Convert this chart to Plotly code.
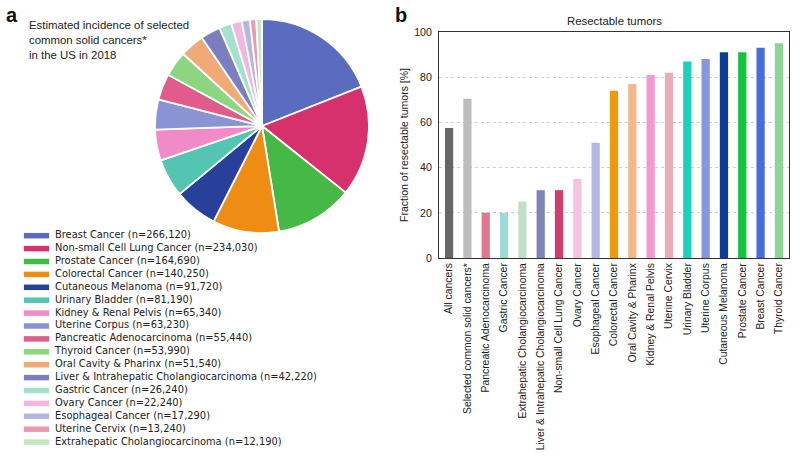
import plotly.graph_objects as go

# ---------------- data ----------------
pie_names = ["Breast Cancer", "Non-small Cell Lung Cancer", "Prostate Cancer", "Colorectal Cancer",
             "Cutaneous Melanoma", "Urinary Bladder", "Kidney & Renal Pelvis", "Uterine Corpus",
             "Pancreatic Adenocarcinoma", "Thyroid Cancer", "Oral Cavity & Pharinx",
             "Liver & Intrahepatic Cholangiocarcinoma", "Gastric Cancer", "Ovary Cancer",
             "Esophageal Cancer", "Uterine Cervix", "Extrahepatic Cholangiocarcinoma"]
pie_counts = [266120, 234030, 164690, 140250, 91720, 81190, 65340, 63230, 55440, 53990,
              51540, 42220, 26240, 22240, 17290, 13240, 12190]
pie_colors = ["#5a6bc0", "#d6306d", "#46b846", "#ef8c14", "#27409a", "#55c5b3", "#f08ac8",
              "#8a93d4", "#e15c8c", "#8cd67f", "#f0aa78", "#7b7fc0", "#a3e0cf", "#f5b5dd",
              "#b6b6e4", "#e99ab2", "#c6e6c3"]

bar_categories = ["All cancers", "Selected common solid cancers*", "Pancreatic Adenocarcinoma",
                  "Gastric Cancer", "Extrahepatic Cholangiocarcinoma",
                  "Liver & Intrahepatic Cholangiocarcinoma", "Non-small Cell Lung Cancer",
                  "Ovary Cancer", "Esophageal Cancer", "Colorectal Cancer", "Oral Cavity & Pharinx",
                  "Kidney & Renal Pelvis", "Uterine Cervix", "Urinary Bladder", "Uterine Corpus",
                  "Cutaneous Melanoma", "Prostate Cancer", "Breast Cancer", "Thyroid Cancer"]
bar_values = [57.5, 70.5, 20, 20, 25, 30, 30, 35, 51, 74, 77, 81, 82, 87, 88, 91, 91, 93, 95]
bar_colors = ["#666666", "#bdbdbd", "#e07890", "#9cdcd4", "#c3dfc8", "#7a86b6", "#d43a6a",
              "#f5c3e0", "#b3b8e2", "#f0990a", "#f2b88b", "#f598d2", "#e8aeb8", "#1ccfc0",
              "#8796e0", "#0b3c9c", "#14c43c", "#4a6ae0", "#8dd496"]
y_ticks = [0, 20, 40, 60, 80, 100]

legend_labels = [f"{n} (n={c:,})" for n, c in zip(pie_names, pie_counts)]
legend_rows = list(range(len(pie_names)))

W, H = 800, 456
SANS = "Liberation Sans, Arial, sans-serif"

fig = go.Figure()

# ---------------- pie ----------------
cx, cy, r = 262, 126, 107
fig.add_trace(go.Pie(
    labels=pie_names, values=pie_counts, sort=False, direction="clockwise", rotation=0,
    marker=dict(colors=pie_colors, line=dict(color="white", width=1.8)),
    textinfo="none", hoverinfo="label+value", showlegend=False,
    domain=dict(x=[(cx - r) / W, (cx + r) / W], y=[(H - cy - r) / H, (H - cy + r) / H]),
))

# ---------------- legend (data-driven swatches + labels) ----------------
fig.add_trace(go.Scatter(
    x=[36.5] * len(legend_rows), y=legend_rows, mode="markers",
    marker=dict(symbol="line-ew", size=18, color=pie_colors,
                line=dict(color=pie_colors, width=5.5)),
    xaxis="x3", yaxis="y3", showlegend=False, hoverinfo="skip", cliponaxis=False,
))
fig.add_trace(go.Scatter(
    x=[55] * len(legend_rows), y=legend_rows, mode="text", text=legend_labels,
    textposition="middle right",
    textfont=dict(family="DejaVu Sans, sans-serif", size=9.9, color="#222"),
    xaxis="x3", yaxis="y3", showlegend=False, hoverinfo="skip", cliponaxis=False,
))

# ---------------- bars ----------------
fig.add_trace(go.Bar(
    x=bar_categories, y=bar_values, marker=dict(color=bar_colors, line=dict(width=0)),
    width=0.45, xaxis="x", yaxis="y", showlegend=False,
))

row_h = 12.9
top_px = 235.7 - row_h / 2
bot_px = top_px + row_h * len(legend_rows)

fig.update_layout(
    width=W, height=H, margin=dict(l=0, r=0, t=0, b=0, autoexpand=False),
    paper_bgcolor="white", plot_bgcolor="white",
    font=dict(family=SANS, color="#222"),
    xaxis=dict(domain=[439 / W, 789 / W], range=[-0.55, len(bar_categories) - 0.45],
               type="category", tickangle=-90, tickfont=dict(size=10.4, family=SANS, color="#222"),
               showline=True, mirror=True, linecolor="#333", linewidth=1, ticks="",
               showgrid=False, anchor="y", fixedrange=True, automargin=False),
    yaxis=dict(domain=[1 - 258 / H, 1 - 32 / H], range=[0, 100], tickvals=y_ticks,
               tickfont=dict(size=10.6, family=SANS, color="#222"),
               showline=True, mirror=True, linecolor="#333", linewidth=1, ticks="",
               showgrid=True, gridcolor="#cfcfcf", griddash="dot", gridwidth=1,
               zeroline=False, anchor="x", ticklabelstandoff=4, automargin=False,
               title=dict(text="Fraction of resectable tumors [%]",
                          font=dict(size=10.5, family=SANS, color="#222"), standoff=3)),
    xaxis3=dict(domain=[0, 0.5], range=[0, 400], visible=False, anchor="y3", fixedrange=True,
                automargin=False),
    yaxis3=dict(domain=[(H - bot_px) / H, (H - top_px) / H],
                range=[len(legend_rows) - 0.5, -0.5], visible=False, anchor="x3", fixedrange=True,
                automargin=False),
    annotations=[
        dict(text="<b>a</b>", x=4 / W, y=1 - 2 / H, xref="paper", yref="paper",
             xanchor="left", yanchor="top", showarrow=False,
             font=dict(size=20, family=SANS, color="#111")),
        dict(text="<b>b</b>", x=393 / W, y=1 - 2 / H, xref="paper", yref="paper",
             xanchor="left", yanchor="top", showarrow=False,
             font=dict(size=20, family=SANS, color="#111")),
        dict(text="Estimated incidence of selected<br>common solid cancers*<br>in the US in 2018",
             x=27 / W, y=1 - 17 / H, xref="paper", yref="paper", xanchor="left", yanchor="top",
             align="left", showarrow=False, font=dict(size=11.4, family=SANS, color="#222")),
        dict(text="Resectable tumors", x=614 / W, y=1 - 21 / H, xref="paper", yref="paper",
             xanchor="center", yanchor="middle", showarrow=False,
             font=dict(size=11.4, family=SANS, color="#222")),
    ],
)

fig.write_html("out.html", config={"displayModeBar": False},
               post_script="document.body.style.margin='0';document.body.style.padding='0';")
